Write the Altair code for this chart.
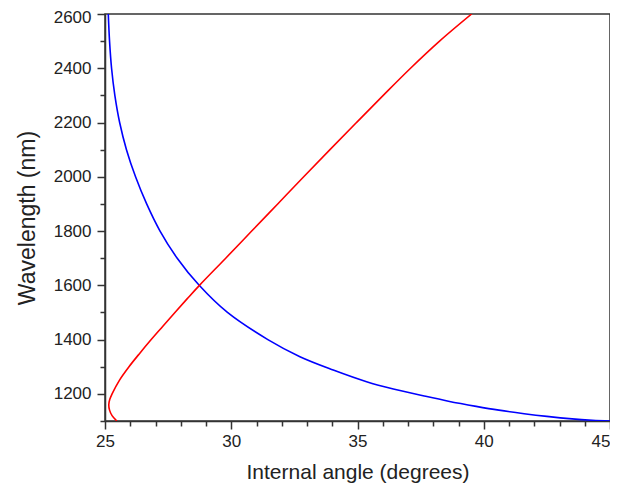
import altair as alt
import pandas as pd

# Blue curve (internal angle in degrees, wavelength in nm)
blue_angle = [25.13, 25.18, 25.26, 25.39, 25.58, 25.85, 26.21, 26.65, 27.18, 27.86,
              28.73, 29.85, 31.45, 32.72, 34.04, 35.36, 36.42, 37.60, 38.60, 39.70,
              40.60, 41.60, 42.50, 43.50, 44.30, 45.00]
blue_wl = [2600, 2500, 2400, 2300, 2200, 2100, 2000, 1900, 1800, 1700,
           1600, 1500, 1400, 1337, 1288, 1245, 1218, 1193, 1173, 1154,
           1140, 1127, 1117, 1108, 1103, 1100]

# Red curve
red_angle = [25.47, 25.28, 25.18, 25.15, 25.19, 25.28, 25.57, 25.95, 26.38, 26.83,
             27.30, 27.77, 28.25, 28.74, 29.78, 30.81, 31.84, 32.87, 33.91, 34.96,
             36.02, 37.10, 38.25, 39.52]
red_wl = [1100, 1120, 1140, 1160, 1180, 1200, 1250, 1300, 1350, 1400,
          1450, 1500, 1550, 1600, 1700, 1800, 1900, 2000, 2100, 2200,
          2300, 2400, 2500, 2600]

x_ticks = list(range(25, 46))
y_ticks = list(range(1100, 2601, 100))

rows = []
for i, (a, w) in enumerate(zip(blue_angle, blue_wl)):
    rows.append({"angle": a, "wl": w, "series": "blue", "order": i})
for i, (a, w) in enumerate(zip(red_angle, red_wl)):
    rows.append({"angle": a, "wl": w, "series": "red", "order": i})
df = pd.DataFrame(rows)

chart = alt.Chart(df).mark_line(strokeWidth=1.6, interpolate="catmull-rom", clip=True).encode(
    x=alt.X("angle:Q",
            scale=alt.Scale(domain=[25, 45], nice=False, zero=False),
            axis=alt.Axis(title="Internal angle (degrees)", values=x_ticks, format="d",
                          labelExpr="datum.value % 5 === 0 ? datum.label : ''",
                          labelAlign={"condition": {"test": "datum.value === 45", "value": "right"}, "value": "center"},
                          tickSize={"condition": {"test": "datum.value % 5 === 0", "value": 8}, "value": 5},
                          labelPadding=4, titlePadding=12, titleFontSize=21, grid=False)),
    y=alt.Y("wl:Q",
            scale=alt.Scale(domain=[1100, 2600], nice=False, zero=False),
            axis=alt.Axis(title="Wavelength (nm)", values=y_ticks, format="d",
                          labelExpr="datum.value % 200 === 0 ? datum.label : ''",
                          labelOffset={"condition": {"test": "datum.value === 2600", "value": 3}, "value": 0},
                          tickSize={"condition": {"test": "datum.value % 200 === 0", "value": 8}, "value": 5},
                          labelPadding=6, titlePadding=14, titleFontSize=23, grid=False)),
    color=alt.Color("series:N", scale=alt.Scale(domain=["blue", "red"], range=["#0000FF", "#FF0000"]),
                    legend=None),
    detail="series:N",
    order="order:Q",
).properties(
    width=505,
    height=407,
    autosize=alt.AutoSizeParams(type="none"),
    padding={"left": 97, "top": 6, "right": 0, "bottom": 68},
).configure_view(
    stroke="#333333", strokeWidth=1.5
).configure_axis(
    domainColor="#333333", domainWidth=1.5,
    tickColor="#333333", tickWidth=1.5,
    labelFont="Liberation Sans", labelFontSize=17, labelColor="#222222",
    titleFont="Liberation Sans", titleFontWeight="normal", titleColor="#222222",
    labelFlush=False, labelOverlap=False,
)

chart.save("out.html", embed_options={"renderer": "svg", "actions": False})
